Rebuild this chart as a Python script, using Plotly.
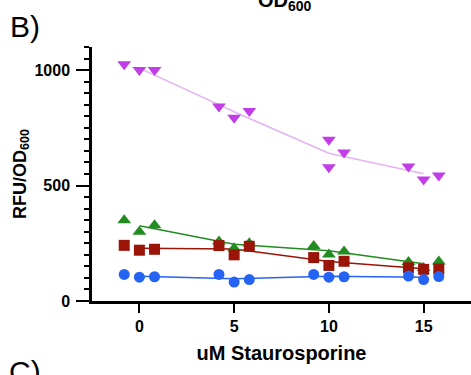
import plotly.graph_objects as go

# replicate x positions (jittered around 0, 5, 10, 15)
x_rep = [-0.8, 0, 0.8, 4.2, 5, 5.8, 9.2, 10, 10.8, 14.2, 15, 15.8]
x_purple = [-0.8, 0, 0.8, 4.2, 5, 5.8, 10, 10, 10.8, 14.2, 15, 15.8]
x_mean = [0, 5, 10, 15]

purple_vals = [1025, 1000, 1000, 842, 794, 823, 698, 579, 643, 583, 526, 543]
green_vals = [350, 300, 328, 258, 228, 250, 238, 201, 214, 169, 143, 171]
red_vals = [241, 220, 224, 240, 200, 237, 188, 154, 172, 144, 137, 138]
blue_vals = [115, 103, 105, 115, 82, 93, 115, 103, 105, 108, 93, 106]

x_ticks = [0, 5, 10, 15]
y_ticks = [0, 500, 1000]


def means(v):
    return [sum(v[i:i + 3]) / 3 for i in range(0, len(v), 3)]


series = [
    ("purple", x_purple, purple_vals, "#C03DE8", "#E2B4F2", "triangle-down", 12),
    ("green", x_rep, green_vals, "#228B22", "#228B22", "triangle-up", 12),
    ("red", x_rep, red_vals, "#9A1408", "#9A1408", "square", 11),
    ("blue", x_rep, blue_vals, "#2563F5", "#2563F5", "circle", 11),
]

fig = go.Figure()
for name, xs, ys, mcol, lcol, sym, sz in series:
    fig.add_trace(go.Scatter(x=x_mean, y=means(ys), mode="lines",
                             line=dict(color=lcol, width=1.5), showlegend=False,
                             hoverinfo="skip"))
for name, xs, ys, mcol, lcol, sym, sz in series:
    fig.add_trace(go.Scatter(x=xs, y=ys, mode="markers", name=name,
                             marker=dict(symbol=sym, size=sz, color=mcol, line=dict(width=0)),
                             showlegend=False))

font_fam = "Liberation Sans, Arial, Helvetica, sans-serif"

fig.update_layout(
    width=471, height=375,
    margin=dict(l=92, r=0, t=47, b=74),
    plot_bgcolor="white", paper_bgcolor="white",
    font=dict(family=font_fam, color="black", size=16),
    xaxis=dict(range=[-2.5, 17.5], tickvals=x_ticks, ticktext=[f"<b>{t}</b>" for t in x_ticks],
               showgrid=False, zeroline=False, showline=True, linecolor="black", linewidth=2.5,
               ticks="outside", ticklen=9, tickwidth=2, tickcolor="black",
               tickfont=dict(size=16, family=font_fam),
               automargin=False,
               title=dict(text="<b>uM Staurosporine</b>", font=dict(size=20), standoff=13)),
    yaxis=dict(range=[0, 1100], tickvals=y_ticks, ticktext=[f"<b>{t}</b>" for t in y_ticks],
               showgrid=False, zeroline=False, showline=True, linecolor="black", linewidth=2.5,
               ticks="outside", ticklen=13, tickwidth=2, tickcolor="black",
               tickfont=dict(size=16, family=font_fam), ticklabelstandoff=3,
               minor=dict(dtick=50, ticks="outside", ticklen=5, tickwidth=2, tickcolor="black", showgrid=False),
               automargin=False,
               title=dict(text="<b>RFU/OD<sub>600</sub></b>", font=dict(size=18), standoff=4)),
    annotations=[
        dict(text="<b>OD<sub>600</sub></b>", xref="paper", yref="paper", x=0.51, y=1.122,
             xanchor="center", yanchor="bottom", showarrow=False, font=dict(size=20)),
        dict(text="B)", xref="paper", yref="paper", x=-0.222, y=1.079,
             xanchor="left", yanchor="middle", showarrow=False, font=dict(size=30)),
        dict(text="C)", xref="paper", yref="paper", x=-0.225, y=-0.276,
             xanchor="left", yanchor="middle", showarrow=False, font=dict(size=30)),
    ],
)

fig.write_html("out.html", config={"displayModeBar": False},
               post_script="document.body.style.margin='0';")
